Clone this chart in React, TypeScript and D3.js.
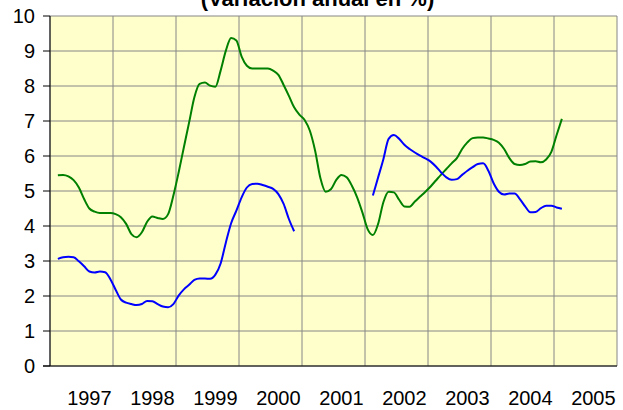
import React from 'react';
import * as d3 from 'd3';

const title = '(Variación anual en %)';
const yearLabels = ['1997', '1998', '1999', '2000', '2001', '2002', '2003', '2004', '2005'];
const yTicks = [0, 1, 2, 3, 4, 5, 6, 7, 8, 9, 10];
// monthly series, first value = February 1997 (month index 1 from Jan 1997)
const firstMonth = 1;

const greenSeries: (number | null)[] = [
  5.45, 5.46, 5.42, 5.31, 5.10, 4.77, 4.50, 4.41, 4.37, 4.37, 4.37,
  4.34, 4.25, 4.06, 3.77, 3.68, 3.82, 4.12, 4.27, 4.23, 4.20, 4.34, 4.87,
  5.53, 6.25, 6.96, 7.68, 8.06, 8.10, 8.01, 7.98, 8.44, 9.01, 9.37, 9.30,
  8.84, 8.58, 8.50, 8.50, 8.50, 8.50, 8.44, 8.32, 8.03, 7.72, 7.39, 7.18,
  7.03, 6.72, 6.15, 5.37, 4.98, 5.05, 5.31, 5.46, 5.39, 5.15, 4.82, 4.39,
  3.91, 3.74, 4.06, 4.68, 4.98, 4.96, 4.75, 4.56, 4.55, 4.70, 4.84, 4.98,
  5.13, 5.30, 5.47, 5.63, 5.79, 5.94, 6.20, 6.39, 6.51, 6.53, 6.53, 6.50,
  6.46, 6.38, 6.20, 5.94, 5.77, 5.74, 5.77, 5.84, 5.85, 5.82, 5.90, 6.12,
  6.60, 7.06,
];

const blueSeries: (number | null)[] = [
  3.06, 3.11, 3.12, 3.11, 2.99, 2.85, 2.70, 2.67, 2.70, 2.68, 2.48,
  2.18, 1.90, 1.81, 1.77, 1.74, 1.77, 1.86, 1.85, 1.77, 1.70, 1.68, 1.77,
  2.01, 2.19, 2.32, 2.46, 2.50, 2.50, 2.49, 2.61, 2.93, 3.53, 4.08, 4.44,
  4.82, 5.10, 5.20, 5.21, 5.17, 5.12, 5.06, 4.91, 4.63, 4.20, 3.85,
  null, null, null, null, null, null, null, null, null, null, null, null, null, null,
  4.87, 5.39, 5.91, 6.49, 6.60, 6.49, 6.32, 6.20, 6.10, 6.01, 5.93,
  5.84, 5.70, 5.53, 5.39, 5.32, 5.34, 5.46, 5.58, 5.68, 5.77, 5.79, 5.58,
  5.22, 4.98, 4.90, 4.93, 4.93, 4.77, 4.56, 4.39, 4.40, 4.51, 4.58, 4.58,
  4.53, 4.49,
];

const FONT = '"Liberation Sans", Arial, sans-serif';

export default function App() {
  const W = 623;
  const H = 410;
  const left = 50;
  const right = 617;
  const top = 16;
  const bottom = 366;

  const totalMonths = yearLabels.length * 12;
  const x = d3.scaleLinear().domain([0, totalMonths]).range([left, right]);
  const y = d3.scaleLinear().domain([0, 10]).range([bottom, top]);

  const line = d3
    .line<number | null>()
    .defined((d) => d != null)
    .x((_, i) => x(firstMonth + i + 0.5))
    .y((d) => y(d as number))
    .curve(d3.curveMonotoneX);

  const yearBounds = d3.range(0, yearLabels.length + 1).map((k) => k * 12);

  return (
    <svg
      width={W}
      height={H}
      style={{ position: 'absolute', left: 0, top: 0, background: '#ffffff' }}
      fontFamily={FONT}
    >
      <rect x={left} y={top} width={right - left} height={bottom - top} fill="#FFFFCC" />
      {yTicks.map((t) => (
        <line key={'h' + t} x1={left} x2={right} y1={y(t)} y2={y(t)} stroke="#868686" strokeWidth={1} />
      ))}
      {yearBounds.map((m) => (
        <line key={'v' + m} x1={x(m)} x2={x(m)} y1={top} y2={bottom} stroke="#868686" strokeWidth={1} />
      ))}
      <path d={line(greenSeries) || ''} fill="none" stroke="#008000" strokeWidth={2} strokeLinejoin="round" />
      <path d={line(blueSeries) || ''} fill="none" stroke="#0000FF" strokeWidth={2} strokeLinejoin="round" />
      {/* axes */}
      <line x1={left} x2={left} y1={top} y2={bottom} stroke="#000" strokeWidth={1} />
      <line x1={left - 7} x2={right} y1={bottom} y2={bottom} stroke="#000" strokeWidth={1} />
      {yTicks.map((t) => (
        <g key={'yt' + t}>
          <line x1={left - 7} x2={left} y1={y(t)} y2={y(t)} stroke="#000" strokeWidth={1} />
          <text x={35} y={y(t)} dy="0.35em" textAnchor="end" fontSize={20} fill="#000">
            {t}
          </text>
        </g>
      ))}
      {yearLabels.map((lab, k) => (
        <text key={lab} x={x(k * 12 + 7.5)} y={405} textAnchor="middle" fontSize={20} fill="#000">
          {lab}
        </text>
      ))}
      <text x={317.5} y={6} textAnchor="middle" fontSize={22} fontWeight="bold" fill="#000">
        {title}
      </text>
    </svg>
  );
}
